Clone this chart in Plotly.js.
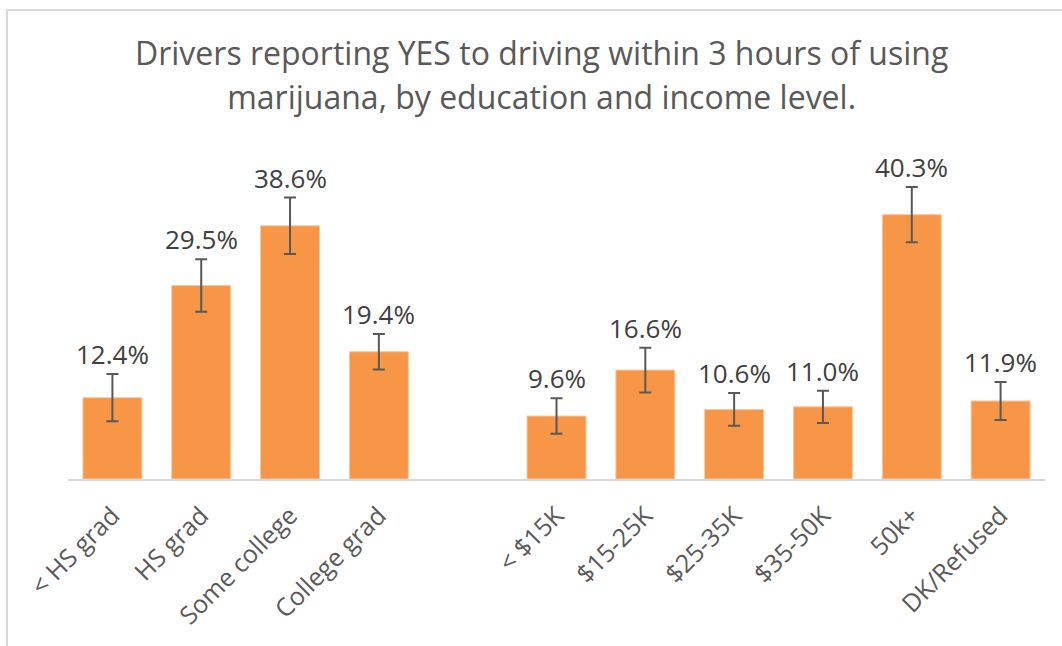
<!DOCTYPE html>
<html>
<head>
<meta charset="utf-8">
<script src="https://cdn.plot.ly/plotly-3.0.1.min.js"></script>
<style>
  html, body { margin: 0; padding: 0; background: #fff; }
  #frame { position: absolute; left: 6px; top: 9px; width: 1062px; height: 646px;
           border-left: 2px solid #d9d9d9; border-top: 2px solid #d9d9d9; pointer-events: none; }
  #chart { width: 1062px; height: 646px; }
</style>
</head>
<body>
<div id="chart"></div>
<div id="frame"></div>
<script>
// ---- data ----
const eduCategories = ['< HS grad', 'HS grad', 'Some college', 'College grad'];
const eduValues = [12.4, 29.5, 38.6, 19.4];
const eduErrors = [3.6, 4.0, 4.3, 2.7];

const incomeCategories = ['< $15K', '$15-25K', '$25-35K', '$35-50K', '50k+', 'DK/Refused'];
const incomeValues = [9.6, 16.6, 10.6, 11.0, 40.3, 11.9];
const incomeErrors = [2.7, 3.4, 2.5, 2.45, 4.2, 2.9];

const gapCategory = ' ';

const titleLine1 = 'Drivers reporting YES to driving within 3 hours of using';
const titleLine2 = 'marijuana, by education and income level.';

// ---- build ----
const xCats = eduCategories.concat([gapCategory], incomeCategories);
const yVals = eduValues.concat([null], incomeValues);
const yErrs = eduErrors.concat([null], incomeErrors);

const trace = {
  type: 'bar',
  x: xCats,
  y: yVals,
  marker: { color: '#F79646', line: { color: '#FAC9A1', width: 1 } },
  error_y: { type: 'data', array: yErrs, visible: true, color: '#595959', thickness: 2, width: 6 },
  hoverinfo: 'x+y',
  showlegend: false
};

const annotations = [];
xCats.forEach((c, i) => {
  if (yVals[i] === null) return;
  annotations.push({
    x: c, y: yVals[i] + yErrs[i], xref: 'x', yref: 'y',
    text: yVals[i].toFixed(1) + '%',
    showarrow: false, yanchor: 'bottom', yshift: 0,
    font: { family: 'Open Sans, sans-serif', size: 26, color: '#404040' }
  });
});

const layout = {
  width: 1062, height: 646,
  paper_bgcolor: '#ffffff', plot_bgcolor: '#ffffff',
  margin: { l: 68, r: 17, t: 151, b: 167, pad: 0 },
  title: {
    text: '<span style="font-size:32px">' + titleLine1 + '</span><br><span style="font-size:32px">' + titleLine2 + '</span>',
    font: { family: 'Open Sans, sans-serif', size: 34, color: '#595959' },
    x: 0.51, xref: 'container', xanchor: 'center',
    y: 0.90, yref: 'container', yanchor: 'top'
  },
  bargap: 0.336,
  xaxis: {
    type: 'category',
    categoryorder: 'array', categoryarray: xCats,
    range: [-0.5, xCats.length - 0.5],
    tickangle: -45,
    ticklabelstandoff: 10,
    tickfont: { family: 'Open Sans, sans-serif', size: 25, color: '#595959' },
    showline: true, linecolor: '#d9d9d9', linewidth: 2,
    ticks: '', showgrid: false, zeroline: false, fixedrange: true
  },
  yaxis: {
    range: [0, 50], visible: false, showgrid: false, zeroline: false, fixedrange: true
  },
  annotations: annotations
};

Plotly.newPlot('chart', [trace], layout, { displayModeBar: false, staticPlot: true });
</script>
</body>
</html>
